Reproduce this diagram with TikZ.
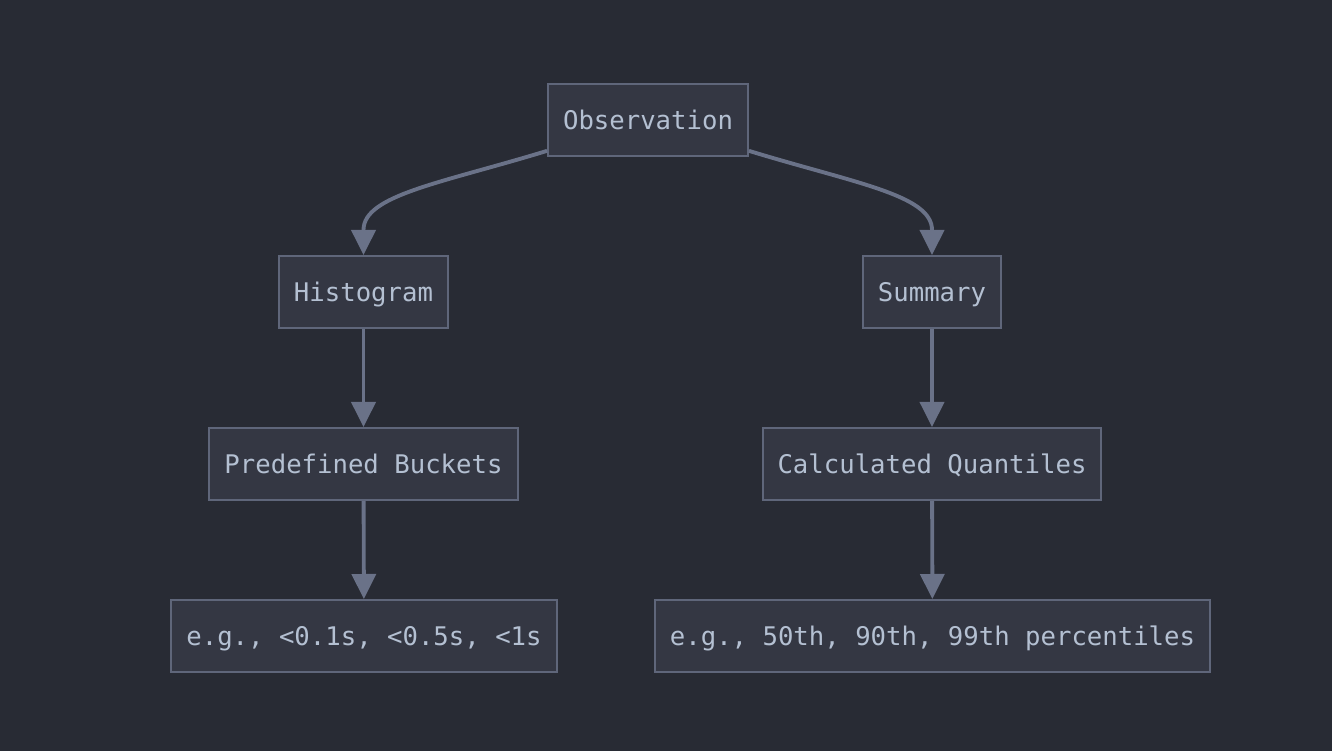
\documentclass[tikz,border=0pt]{standalone}
\usepackage{fontspec}
\setmonofont{DejaVu Sans Mono}
\usetikzlibrary{arrows.meta, positioning, calc}
\definecolor{cbg}{HTML}{282B34}
\definecolor{cfill}{HTML}{343743}
\definecolor{cedge}{HTML}{5F667A}
\definecolor{ctext}{HTML}{B4C0D2}
\definecolor{cline}{HTML}{6A7288}
\tikzset{
  every picture/.style={font=\ttfamily\fontsize{7.3}{9}\selectfont},
  box/.style={draw=cedge, fill=cfill, text=ctext, line width=0.57pt, inner xsep=0.15cm, minimum height=0.72cm, text height=1.55ex, text depth=0.35ex},
  arrow/.style={-{Triangle[length=0.25cm, width=0.24cm]}, draw=cline, line width=1.1pt},
}
\begin{document}
\begin{tikzpicture}
  \fill[cbg] (0,0) rectangle (13.32,7.51);
  \useasboundingbox (0,0) rectangle (13.32,7.51);
  \node[box] (obs) at (6.48,6.31) {Observation};
  \node[box] (hist) at (3.635,4.59) {Histogram};
  \node[box] (sum) at (9.32,4.59) {Summary};
  \node[box] (buckets) at (3.635,2.87) {Predefined Buckets};
  \node[box] (quant) at (9.32,2.87) {Calculated Quantiles};
  \node[box] (exb) at (3.64,1.15) {e.g., <0.1s, <0.5s, <1s};
  \node[box] (exq) at (9.325,1.15) {e.g., 50th, 90th, 99th percentiles};
  \draw[arrow] (obs.197) .. controls +(197:1.1) and +(90:0.35) .. ($(hist.north)+(0,0.25)$) -- (hist.north);
  \draw[arrow] (obs.343) .. controls +(-17:1.1) and +(90:0.35) .. ($(sum.north)+(0,0.25)$) -- (sum.north);
  \draw[arrow] (hist) -- (buckets);
  \draw[arrow] (buckets) -- (exb);
  \draw[arrow] (sum) -- (quant);
  \draw[arrow] (quant) -- (exq);
\end{tikzpicture}
\end{document}
